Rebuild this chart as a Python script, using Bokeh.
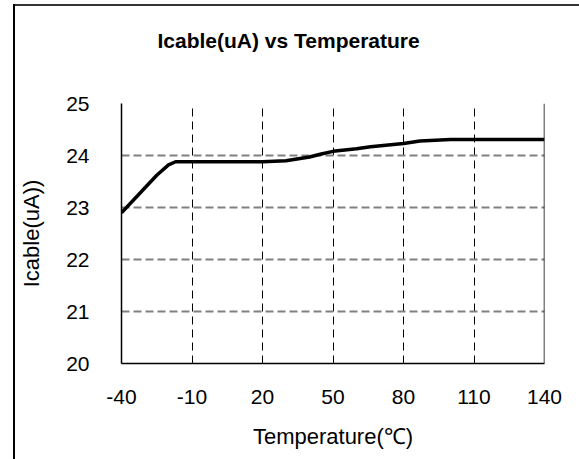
from bokeh.plotting import figure
from bokeh.models import Range1d, FixedTicker, Span, InlineStyleSheet, Title
from bokeh.embed import file_html
from bokeh.resources import INLINE

# ---- data ----
temperature = [-40, -30, -25, -20, -17, -10, 0, 10, 20, 25, 30, 40, 45, 50, 60, 66, 80, 87, 100, 110, 120, 130, 140]
icable_ua = [22.9, 23.38, 23.62, 23.82, 23.88, 23.88, 23.88, 23.88, 23.88, 23.89, 23.90, 23.97, 24.03, 24.08,
             24.13, 24.17, 24.23, 24.28, 24.31, 24.31, 24.31, 24.31, 24.31]
x_ticks = [-40, -10, 20, 50, 80, 110, 140]
y_ticks = [20, 21, 22, 23, 24, 25]
title_text = "Icable(uA) vs Temperature"
x_label = "Temperature(\u2103)"
y_label = "Icable(uA))"

FONT = "Liberation Sans"

p = figure(width=579, height=459, output_backend="svg", toolbar_location=None,
           x_range=Range1d(-40, 140), y_range=Range1d(20, 25),
           min_border_left=121, min_border_right=35, min_border_top=103, min_border_bottom=96)
p.stylesheets = [InlineStyleSheet(css="""
:host { position: relative; }
:host::before { content: ""; position: absolute; left: 13px; top: 4px; width: 566px; height: 2px;
                background: #333333; z-index: 10; }
:host::after { content: ""; position: absolute; left: 13px; top: 4px; width: 2px; height: 455px;
               background: #000000; z-index: 10; }
""")]
p.outline_line_color = None
p.background_fill_color = "white"
p.border_fill_color = "white"

# spacer between title and plot area
p.add_layout(Title(text=" ", text_font_size="2px", standoff=48), "above")

# title
p.title.text = title_text
p.title.text_font = FONT
p.title.text_font_size = "21px"
p.title.text_font_style = "bold"
p.title.text_color = "black"
p.title.align = "left"
p.title.offset = 36
p.title.standoff = 0

# axes
for ax in (p.xaxis[0], p.yaxis[0]):
    ax.major_tick_line_color = None
    ax.minor_tick_line_color = None
    ax.axis_line_color = "black"
    ax.axis_line_width = 1.5
    ax.major_label_text_font = FONT
    ax.major_label_text_font_size = "21px"
    ax.major_label_text_color = "black"
    ax.axis_label_text_font = FONT
    ax.axis_label_text_font_size = "22px"
    ax.axis_label_text_font_style = "normal"
    ax.axis_label_text_color = "black"

p.xaxis.ticker = FixedTicker(ticks=x_ticks)
p.yaxis.ticker = FixedTicker(ticks=y_ticks)
p.xaxis.major_label_overrides = {t: str(t) for t in x_ticks}
p.xaxis.axis_label = x_label
p.yaxis.axis_label = y_label
p.xaxis.major_label_standoff = 20
p.xaxis.axis_label_standoff = 17
p.yaxis.major_label_standoff = 26
p.yaxis.axis_label_standoff = 19

# grids
p.xgrid.ticker = FixedTicker(ticks=x_ticks[1:-1])
p.xgrid.grid_line_color = "black"
p.xgrid.grid_line_width = 1
p.xgrid.grid_line_dash = "8 5"
p.ygrid.ticker = FixedTicker(ticks=y_ticks[1:])
p.ygrid.grid_line_color = "#808080"
p.ygrid.grid_line_width = 2
p.ygrid.grid_line_dash = "8 4"

p.add_layout(Span(location=x_ticks[-1], dimension="height", line_color="black", line_width=1.5))

# data line
p.line(temperature, icable_ua, line_color="black", line_width=3.5)

open("out.html", "w").write(file_html(p, INLINE))
